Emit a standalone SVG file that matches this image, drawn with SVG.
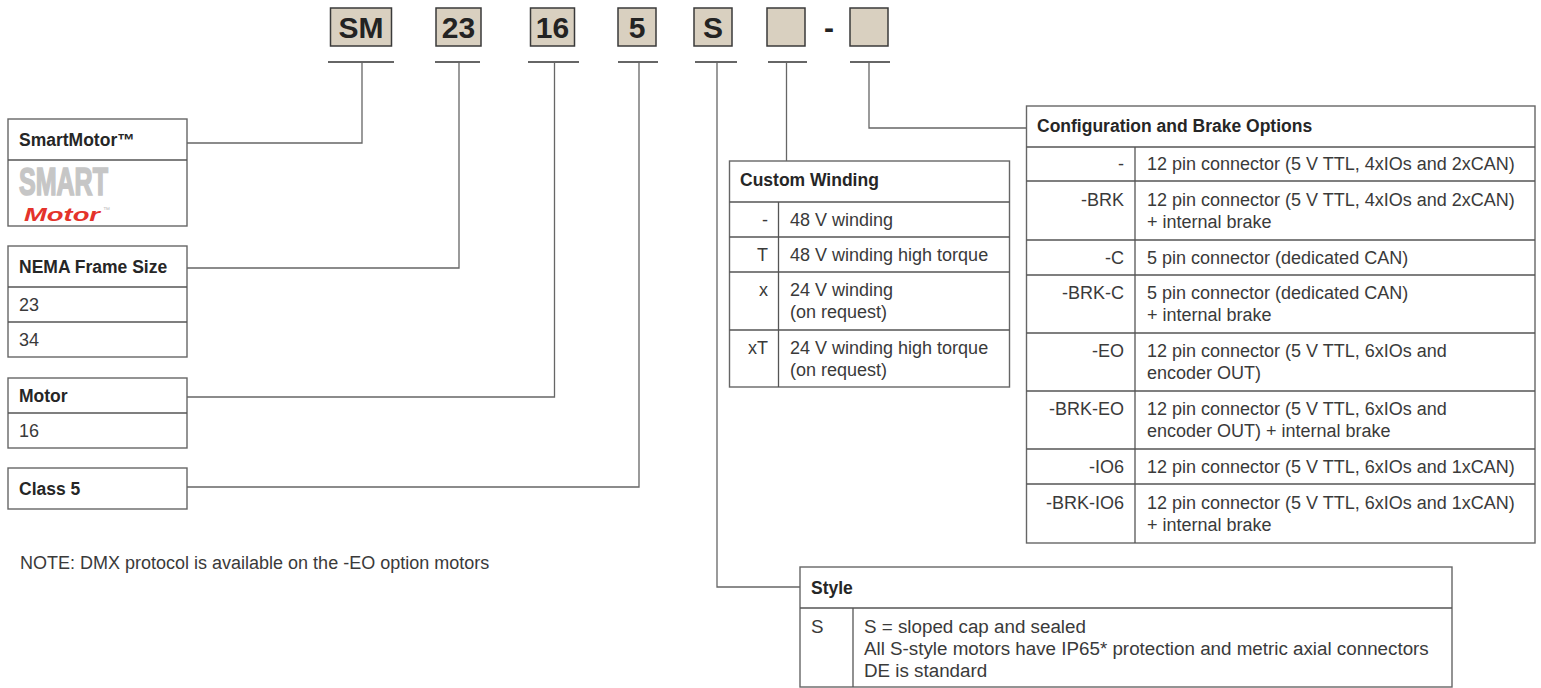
<svg xmlns="http://www.w3.org/2000/svg" width="1541" height="688" viewBox="0 0 1541 688">
<style>
  text { font-family: "Liberation Sans", Arial, sans-serif; }
  .code { fill: #d9d0c0; stroke: #3a3a3a; stroke-width: 1.5; }
  .codet { font-size: 30px; font-weight: bold; fill: #232323; text-anchor: middle; }
  .tick { stroke: #333; stroke-width: 1.4; fill: none; }
  .conn { stroke: #666; stroke-width: 1.3; fill: none; }
  .box { fill: #fff; stroke: #666; stroke-width: 1.4; }
  .sep { stroke: #555; stroke-width: 1.3; }
  .hd { font-size: 17.5px; font-weight: bold; fill: #262626; }
  .bd { font-size: 18px; fill: #3a3a3a; }
  .k { font-size: 18px; fill: #3a3a3a; text-anchor: end; }
  .st { font-size: 18.8px; fill: #3a3a3a; }
</style>
<rect width="1541" height="688" fill="#fff"/>

<g id="code">
  <rect class="code" x="330.5" y="8" width="61" height="38"/>
  <text class="codet" x="361" y="38">SM</text>
  <rect class="code" x="436" y="8" width="45" height="38"/>
  <text class="codet" x="458.5" y="38">23</text>
  <rect class="code" x="530.5" y="8" width="44" height="38"/>
  <text class="codet" x="552.5" y="38">16</text>
  <rect class="code" x="618" y="8" width="38" height="38"/>
  <text class="codet" x="637" y="38">5</text>
  <rect class="code" x="694" y="8" width="38" height="38"/>
  <text class="codet" x="713" y="38">S</text>
  <rect class="code" x="767" y="8" width="38" height="38"/>
  <text class="codet" x="829" y="38">-</text>
  <rect class="code" x="850" y="8" width="38" height="38"/>
</g>

<g id="connectors">
  <line class="tick" x1="328" y1="62" x2="394" y2="62"/>
  <line class="tick" x1="435" y1="62" x2="480" y2="62"/>
  <line class="tick" x1="528" y1="62" x2="579" y2="62"/>
  <line class="tick" x1="618" y1="62" x2="658" y2="62"/>
  <line class="tick" x1="695" y1="62" x2="737" y2="62"/>
  <line class="tick" x1="768" y1="62" x2="807" y2="62"/>
  <line class="tick" x1="850" y1="62" x2="890" y2="62"/>
  <polyline class="conn" points="362,62 362,143 187,143"/>
  <polyline class="conn" points="459,62 459,268 187,268"/>
  <polyline class="conn" points="554.5,62 554.5,397 187,397"/>
  <polyline class="conn" points="639,62 639,487 187,487"/>
  <polyline class="conn" points="717,62 717,587 800,587"/>
  <polyline class="conn" points="786.5,62 786.5,161"/>
  <polyline class="conn" points="869,62 869,128 1026.5,128"/>
</g>

<g id="smartmotor">
  <rect class="box" x="8" y="119" width="179" height="107"/>
  <line class="sep" x1="8" y1="160" x2="187" y2="160"/>
  <text class="hd" x="19" y="145.5">SmartMotor™</text>
  <text x="19" y="195" font-size="38" font-weight="bold" fill="#c6c6c6" stroke="#c6c6c6" stroke-width="1.6" textLength="89" lengthAdjust="spacingAndGlyphs">SMART</text>
  <text x="24" y="220.5" font-family="Liberation Serif, serif" font-size="19" font-weight="bold" font-style="italic" fill="#e4332b" textLength="76" lengthAdjust="spacingAndGlyphs">Motor</text>
  <text x="103" y="212" font-size="7" fill="#bbbbbb">™</text>
</g>

<g id="nema">
  <rect class="box" x="8" y="246" width="179" height="111"/>
  <line class="sep" x1="8" y1="287" x2="187" y2="287"/>
  <line class="sep" x1="8" y1="322" x2="187" y2="322"/>
  <text class="hd" x="19" y="272.5">NEMA Frame Size</text>
  <text class="bd" x="19" y="310.5">23</text>
  <text class="bd" x="19" y="345.5">34</text>
</g>

<g id="motor">
  <rect class="box" x="8" y="378" width="179" height="70"/>
  <line class="sep" x1="8" y1="413" x2="187" y2="413"/>
  <text class="hd" x="19" y="401.5">Motor</text>
  <text class="bd" x="19" y="436.5">16</text>
</g>

<g id="class5">
  <rect class="box" x="8" y="468" width="179" height="41"/>
  <text class="hd" x="19" y="494.5">Class 5</text>
</g>

<g id="note">
  <text class="bd" x="20" y="569">NOTE: DMX protocol is available on the -EO option motors</text>
</g>

<g id="custom-winding">
  <rect class="box" x="729.5" y="161" width="280" height="226"/>
  <line class="sep" x1="729.5" y1="202" x2="1009.5" y2="202"/>
  <line class="sep" x1="729.5" y1="237" x2="1009.5" y2="237"/>
  <line class="sep" x1="729.5" y1="272" x2="1009.5" y2="272"/>
  <line class="sep" x1="729.5" y1="330" x2="1009.5" y2="330"/>
  <line class="sep" x1="778.5" y1="202" x2="778.5" y2="387"/>
  <text class="hd" x="740" y="186">Custom Winding</text>
  <text class="k" x="768" y="226">-</text>
  <text class="bd" x="790" y="226">48 V winding</text>
  <text class="k" x="768" y="261">T</text>
  <text class="bd" x="790" y="261">48 V winding high torque</text>
  <text class="k" x="768" y="296">x</text>
  <text class="bd" x="790" y="296">24 V winding</text>
  <text class="bd" x="790" y="318">(on request)</text>
  <text class="k" x="768" y="354">xT</text>
  <text class="bd" x="790" y="354">24 V winding high torque</text>
  <text class="bd" x="790" y="376">(on request)</text>
</g>

<g id="config-brake">
  <rect class="box" x="1026.5" y="106" width="508.5" height="437"/>
  <line class="sep" x1="1026.5" y1="147" x2="1535" y2="147"/>
  <line class="sep" x1="1026.5" y1="181" x2="1535" y2="181"/>
  <line class="sep" x1="1026.5" y1="240" x2="1535" y2="240"/>
  <line class="sep" x1="1026.5" y1="275" x2="1535" y2="275"/>
  <line class="sep" x1="1026.5" y1="333" x2="1535" y2="333"/>
  <line class="sep" x1="1026.5" y1="391" x2="1535" y2="391"/>
  <line class="sep" x1="1026.5" y1="449" x2="1535" y2="449"/>
  <line class="sep" x1="1026.5" y1="484" x2="1535" y2="484"/>
  <line class="sep" x1="1135" y1="147" x2="1135" y2="543"/>
  <text class="hd" x="1037" y="132">Configuration and Brake Options</text>
  <text class="k" x="1124" y="170">-</text>
  <text class="bd" x="1147" y="170">12 pin connector (5 V TTL, 4xIOs and 2xCAN)</text>
  <text class="k" x="1124" y="205.5">-BRK</text>
  <text class="bd" x="1147" y="205.5">12 pin connector (5 V TTL, 4xIOs and 2xCAN)</text>
  <text class="bd" x="1147" y="227.5">+ internal brake</text>
  <text class="k" x="1124" y="263.5">-C</text>
  <text class="bd" x="1147" y="263.5">5 pin connector (dedicated CAN)</text>
  <text class="k" x="1124" y="299">-BRK-C</text>
  <text class="bd" x="1147" y="299">5 pin connector (dedicated CAN)</text>
  <text class="bd" x="1147" y="321">+ internal brake</text>
  <text class="k" x="1124" y="357">-EO</text>
  <text class="bd" x="1147" y="357">12 pin connector (5 V TTL, 6xIOs and</text>
  <text class="bd" x="1147" y="379">encoder OUT)</text>
  <text class="k" x="1124" y="415">-BRK-EO</text>
  <text class="bd" x="1147" y="415">12 pin connector (5 V TTL, 6xIOs and</text>
  <text class="bd" x="1147" y="437">encoder OUT) + internal brake</text>
  <text class="k" x="1124" y="472.5">-IO6</text>
  <text class="bd" x="1147" y="472.5">12 pin connector (5 V TTL, 6xIOs and 1xCAN)</text>
  <text class="k" x="1124" y="508.5">-BRK-IO6</text>
  <text class="bd" x="1147" y="508.5">12 pin connector (5 V TTL, 6xIOs and 1xCAN)</text>
  <text class="bd" x="1147" y="530.5">+ internal brake</text>
</g>

<g id="style">
  <rect class="box" x="800" y="567" width="652" height="120"/>
  <line class="sep" x1="800" y1="608" x2="1452" y2="608"/>
  <line class="sep" x1="853" y1="608" x2="853" y2="687"/>
  <text class="hd" x="811" y="593.5">Style</text>
  <text class="st" x="811" y="633">S</text>
  <text class="st" x="864" y="633">S = sloped cap and sealed</text>
  <text class="st" x="864" y="655">All S-style motors have IP65* protection and metric axial connectors</text>
  <text class="st" x="864" y="677">DE is standard</text>
</g>
</svg>
